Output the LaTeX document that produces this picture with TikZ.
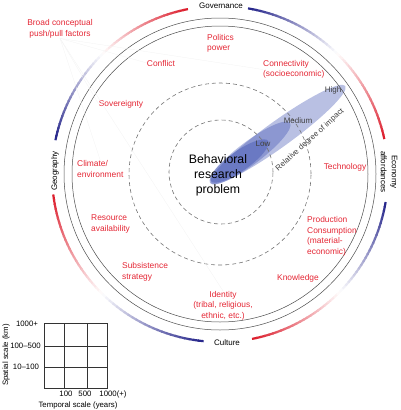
\documentclass[tikz,border=0pt]{standalone}
\usepackage{fontspec}
\setmainfont{Liberation Sans}
\usetikzlibrary{positioning}
\definecolor{factorred}{RGB}{228,38,52}
\definecolor{ringred}{RGB}{220,30,45}
\definecolor{ringblue}{RGB}{40,40,140}
\definecolor{impactblue}{RGB}{55,75,175}

\begin{document}
\begin{tikzpicture}[x=1pt, y=-1pt,
  factor/.style={text=factorred, font=\fontsize{8.4}{10.5}\selectfont, inner sep=0pt, align=left},
  ringlabel/.style={font=\fontsize{8}{11}\selectfont, inner sep=0pt, align=center},
  impact/.style={text=black!75, font=\fontsize{8}{9.5}\selectfont, inner sep=0pt},
  gridlabel/.style={font=\fontsize{7.8}{9}\selectfont, inner sep=0pt},
  ringline/.style={draw=black!70, line width=0.5pt},
  zone/.style={draw=black!55, line width=0.6pt, dash pattern=on 4pt off 3pt},
  leader/.style={draw=black!5, line width=0.3pt},
  gridline/.style={draw=black!80, line width=0.7pt}]
 \useasboundingbox (0,0) rectangle (400,410);
 \coordinate (c) at (220,174);
 \coordinate (ci) at (221,172);

 \fill[impactblue, opacity=0.35, rotate around={35.8:(278,134.5)}] (278,134.5) ellipse[x radius=83pt, y radius=13pt];
 \fill[impactblue, opacity=0.35, rotate around={37:(250,153)}] (250,153) ellipse[x radius=50pt, y radius=11.5pt];
 \fill[impactblue, opacity=0.4, rotate around={35:(239.5,161)}] (239.5,161) ellipse[x radius=35pt, y radius=10pt];

 \draw[zone] (c) circle[radius=91pt];
 \draw[zone] (ci) circle[radius=52pt];
 \draw[ringline] (c) circle[radius=156pt];
 \draw[ringline] (c) circle[radius=148pt];

 \foreach \s/\e in {12/80, 101/168, 187/264, 281/350}{
   \foreach \k in {0,...,47}{
     \pgfmathsetmacro\t{\k/47}
     \pgfmathsetmacro\aa{\s+(\e-\s)*\k/48}
     \pgfmathsetmacro\ab{\s+(\e-\s)*(\k+1)/48+0.4}
     \ifdim\t pt<0.5pt
       \pgfmathsetmacro\p{100-200*\t}
       \colorlet{segc}{ringred!\p!white}
     \else
       \pgfmathsetmacro\p{200*\t-100}
       \colorlet{segc}{ringblue!\p!white}
     \fi
     \draw[segc, line width=2.2pt] ([shift={(\aa:168pt)}]c) arc[start angle=\aa, end angle=\ab, radius=168pt];
   }
 }

 \node[ringlabel] (governance) at (221,6) {Governance};
 \node[ringlabel] (culture) at (227,343) {Culture};
 \node[ringlabel, rotate=90] (geography) at (55,171) {Geography};
 \node[ringlabel, rotate=-90] (economy) at (389,172) {Economy\\affordances};

 \node[factor, align=center] (broad) at (60,29) {Broad conceptual\\push/pull factors};
 \node[factor, anchor=west] (politics) at (207,43.5) {Politics\\power};
 \node[factor] (conflict) at (161,63) {Conflict};
 \node[factor, anchor=west] (connectivity) at (263,69.5) {Connectivity\\(socioeconomic)};
 \node[factor] (sovereignty) at (121,104) {Sovereignty};
 \node[factor, anchor=west] (climate) at (77,169) {Climate/\\environment};
 \node[factor] (technology) at (345,167) {Technology};
 \node[factor, anchor=west] (resource) at (91,224) {Resource\\availability};
 \node[factor, anchor=west] (production) at (307,236.5) {Production\\Consumption\\(material-\\economic)};
 \node[factor, anchor=west] (subsistence) at (122,272) {Subsistence\\strategy};
 \node[factor] (knowledge) at (298,278) {Knowledge};
 \node[factor, align=center] (identity) at (223,305.5) {Identity\\(tribal, religious,\\ethnic, etc.)};

 \foreach \n/\a in {conflict/west, connectivity/west, sovereignty/west, climate/north, identity/north}
   \draw[leader] (broad.south) -- (\n.\a);

 \node[font=\fontsize{12.3}{15}\selectfont, align=center, inner sep=0pt] (problem) at (218,175) {Behavioral\\research\\problem};
 \node[impact] (high) at (333,90) {High};
 \node[impact] (medium) at (298,121) {Medium};
 \node[impact] (low) at (263,144) {Low};
 \node[impact, font=\fontsize{7.8}{9}\selectfont, rotate=42] (relative) at (310,140) {Relative degree of impact};

 \draw[gridline] (44,323) rectangle (107,388);
 \foreach \x in {64,87} \draw[gridline] (\x,323) -- (\x,388);
 \foreach \y in {346,367} \draw[gridline] (44,\y) -- (107,\y);
 \node[gridlabel] (s1) at (27,324) {1000+};
 \node[gridlabel] (s2) at (25.5,346) {100--500};
 \node[gridlabel] (s3) at (26,367) {10--100};
 \node[gridlabel, rotate=90] (spatial) at (6,355) {Spatial scale (km)};
 \node[gridlabel] (t1) at (66,394) {100};
 \node[gridlabel] (t2) at (85,394) {500};
 \node[gridlabel] (t3) at (113,394) {1000(+)};
 \node[gridlabel] (temporal) at (78,405) {Temporal scale (years)};
\end{tikzpicture}
\end{document}
